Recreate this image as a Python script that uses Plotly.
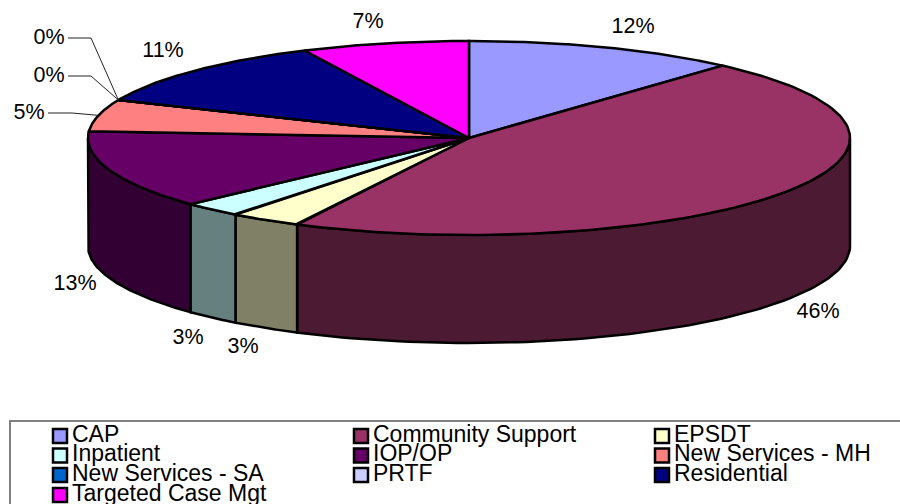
import numpy as np
import plotly.graph_objects as go

# values, clockwise from 12 o'clock
categories = ['CAP', 'Community Support', 'EPSDT', 'Inpatient', 'IOP/OP',
              'New Services - MH', 'New Services - SA', 'PRTF', 'Residential',
              'Targeted Case Mgt']
shares = [11.6, 45.85, 3.05, 2.55, 13.05, 5.3, 0.0, 0.0, 11.5, 7.1]
pct_labels = ['12%', '46%', '3%', '3%', '13%', '5%', '0%', '0%', '11%', '7%']

top_colors = ['#9999FF', '#993366', '#FFFFCC', '#CCFFFF', '#660066',
              '#FF8080', '#0066CC', '#CCCCFF', '#000080', '#FF00FF']
side_colors = ['#4D4D80', '#4D1A33', '#808066', '#668080', '#330033',
               '#804040', '#003366', '#666680', '#000040', '#800080']

# where the percent texts sit, same order as categories
label_x = [633, 818, 243, 188, 75, 29, 49, 49, 163, 368]
label_y = [28, 313, 348, 339, 285, 114, 77, 39, 52, 23]

# pie geometry in pixels
CX, CY, RX, RY, DEPTH = 469, 138, 381, 97, 108


def ellipse(theta, drop=0):
    return CX + RX * np.sin(theta), CY - RY * np.cos(theta) + drop


fig = go.Figure()

edges = np.radians(np.cumsum([0] + shares) * 3.6)

# side walls first, only the front half of the rim shows
for i in range(len(shares)):
    a, b = max(edges[i], np.pi / 2), min(edges[i + 1], 3 * np.pi / 2)
    if b <= a:
        continue
    t = np.linspace(a, b, 80)
    x1, y1 = ellipse(t)
    x2, y2 = ellipse(t[::-1], DEPTH)
    fig.add_trace(go.Scatter(
        x=np.r_[x1, x2, x1[0]], y=np.r_[y1, y2, y1[0]],
        mode='lines', fill='toself', fillcolor=side_colors[i],
        line=dict(color='black', width=2.5), hoverinfo='skip', showlegend=False))

# top face
for i in range(len(shares)):
    t = np.linspace(edges[i], edges[i + 1], 120)
    x, y = ellipse(t)
    fig.add_trace(go.Scatter(
        x=np.r_[CX, x, CX], y=np.r_[CY, y, CY],
        mode='lines', fill='toself', fillcolor=top_colors[i],
        line=dict(color='black', width=2.5), hoverinfo='skip', showlegend=False))

# leader lines for the small slices: text end, elbow, then the rim
for idx, sx, lx, ly in [(5, 48, 72, 113), (6, 68, 91, 76), (7, 68, 91, 38)]:
    mid = (edges[idx] + edges[idx + 1]) / 2
    ex, ey = ellipse(mid)
    fig.add_trace(go.Scatter(
        x=[sx, lx, ex], y=[ly, ly, ey], mode='lines',
        line=dict(color='#222222', width=1), hoverinfo='skip', showlegend=False))

fig.add_trace(go.Scatter(
    x=label_x, y=label_y, text=pct_labels, mode='text',
    textposition='middle center', hoverinfo='skip', showlegend=False,
    textfont=dict(family='Liberation Sans', size=21.5, color='black')))

# legend box, three columns filled row by row
legend_cols = [60, 361, 662]
legend_rows = [436, 455.5, 475, 495]
for i, name in enumerate(categories):
    col, row = legend_cols[i % 3], legend_rows[i // 3]
    fig.add_trace(go.Scatter(
        x=[col], y=[row], mode='markers', showlegend=False, hoverinfo='skip',
        marker=dict(symbol='square', size=14, color=top_colors[i],
                    line=dict(color='black', width=2.5))))
    fig.add_trace(go.Scatter(
        x=[col + 12], y=[row], text=[name], mode='text', showlegend=False,
        hoverinfo='skip', textposition='middle right',
        textfont=dict(family='Liberation Sans', size=23, color='black')))

fig.add_shape(type='rect', x0=10, y0=421, x1=910, y1=520,
              line=dict(color='#808080', width=2), layer='below')

fig.update_xaxes(range=[0, 900], visible=False)
fig.update_yaxes(range=[504, 0], visible=False)
fig.update_layout(width=900, height=504, margin=dict(l=0, r=0, t=0, b=0),
                  paper_bgcolor='white', plot_bgcolor='white')

fig.write_html('out.html', config={'displayModeBar': False},
               post_script="document.body.style.margin='0';")
